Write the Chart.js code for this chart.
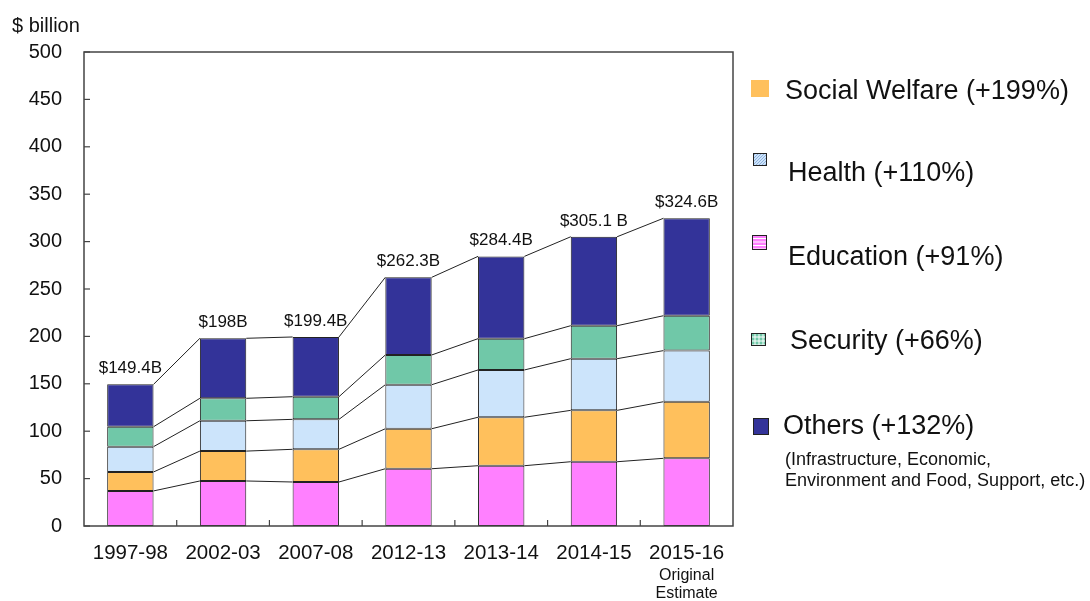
<!DOCTYPE html>
<html lang="en">
<head>
    <meta charset="utf-8">
    <title>Budget by category</title>
    <script src="https://cdn.jsdelivr.net/npm/chart.js@4.4.0/dist/chart.umd.min.js"></script>
    <style>
        body { margin: 0; background: #fff; }
    </style>
</head>
<body>
<canvas id="myChart" width="1090" height="601"></canvas>

<script>
    // values, $ billion
    const years = ["1997-98", "2002-03", "2007-08", "2012-13", "2013-14", "2014-15", "2015-16"];
    const education = [37, 47.5, 46.4, 60.4, 63.6, 67.8, 71.4];
    const welfare = [20, 31.5, 34.5, 42.2, 51.1, 54.2, 59.7];
    const health = [26.7, 32, 31.6, 46.4, 49.9, 54.5, 53.9];
    const security = [21, 23.7, 23.9, 31.4, 33, 34.8, 36.8];
    const others = [44.7, 63.3, 63, 81.9, 86.8, 93.8, 102.8];
    const totalLabels = ["$149.4B", "$198B", "$199.4B", "$262.3B", "$284.4B", "$305.1 B", "$324.6B"];
    const yTicks = [0, 50, 100, 150, 200, 250, 300, 350, 400, 450, 500];
    const lastNote = ["Original", "Estimate"];

    const legendItems = [
        {label: "Social Welfare (+199%)", key: "welfare"},
        {label: "Health (+110%)", key: "health"},
        {label: "Education (+91%)", key: "education"},
        {label: "Security (+66%)", key: "security"},
        {label: "Others (+132%)", key: "others"}
    ];
    const othersNote = ["(Infrastructure, Economic,", "Environment and Food, Support, etc.)"];

    const colors = {
        education: "#ff80ff",
        welfare: "#ffc05c",
        health: "#cce4fb",
        security: "#70c8a8",
        others: "#333399"
    };

    const FONT = "'Liberation Sans', Arial, sans-serif";

    let drawMarker = (ctx, key, x, y, w, h) => {
        ctx.save();
        ctx.fillStyle = colors[key];
        ctx.fillRect(x, y, w, h);
        ctx.beginPath();
        ctx.rect(x, y, w, h);
        ctx.clip();
        ctx.lineWidth = 1;
        if (key === "health") {
            ctx.strokeStyle = "#8fb0dc";
            for (let k = -h; k < w; k += 3) {
                ctx.beginPath();
                ctx.moveTo(x + k, y + h);
                ctx.lineTo(x + k + h, y);
                ctx.stroke();
            }
        } else if (key === "education") {
            ctx.strokeStyle = "#ffffff";
            for (let k = 3.5; k < h; k += 3.5) {
                ctx.beginPath();
                ctx.moveTo(x, y + k);
                ctx.lineTo(x + w, y + k);
                ctx.stroke();
            }
        } else if (key === "security") {
            ctx.strokeStyle = "#ffffff";
            for (let k = 4; k < w; k += 4) {
                ctx.beginPath();
                ctx.moveTo(x + k, y);
                ctx.lineTo(x + k, y + h);
                ctx.moveTo(x, y + k);
                ctx.lineTo(x + w, y + k);
                ctx.stroke();
            }
        }
        ctx.restore();
        if (key !== "welfare") {
            ctx.strokeStyle = "#222";
            ctx.lineWidth = 1;
            ctx.strokeRect(x + 0.5, y + 0.5, w - 1, h - 1);
        }
    };

    const extrasPlugin = {
        id: "extras",
        afterDatasetsDraw(chart) {
            const {ctx, chartArea: a, scales: {x, y}} = chart;
            ctx.save();

            // lines joining the segment tops
            ctx.strokeStyle = "#222";
            ctx.lineWidth = 1;
            chart.data.datasets.forEach((ds, di) => {
                const meta = chart.getDatasetMeta(di);
                for (let i = 0; i < meta.data.length - 1; i++) {
                    const b1 = meta.data[i], b2 = meta.data[i + 1];
                    ctx.beginPath();
                    ctx.moveTo(b1.x + b1.width / 2, b1.y);
                    ctx.lineTo(b2.x - b2.width / 2, b2.y);
                    ctx.stroke();
                }
            });

            // plot frame and inward ticks
            ctx.strokeStyle = "#444";
            ctx.lineWidth = 1.5;
            ctx.strokeRect(a.left, a.top, a.right - a.left, a.bottom - a.top);
            ctx.lineWidth = 1.2;
            yTicks.forEach(v => {
                const py = y.getPixelForValue(v);
                ctx.beginPath();
                ctx.moveTo(a.left, py);
                ctx.lineTo(a.left + 6, py);
                ctx.stroke();
            });
            for (let i = 1; i < years.length; i++) {
                const px = (x.getPixelForValue(i - 1) + x.getPixelForValue(i)) / 2;
                ctx.beginPath();
                ctx.moveTo(px, a.bottom);
                ctx.lineTo(px, a.bottom - 6);
                ctx.stroke();
            }

            // totals above bars
            const top = chart.getDatasetMeta(chart.data.datasets.length - 1);
            ctx.fillStyle = "#111";
            ctx.font = "17px " + FONT;
            ctx.textAlign = "center";
            ctx.textBaseline = "alphabetic";
            top.data.forEach((b, i) => {
                ctx.fillText(totalLabels[i], b.x, b.y - 11);
            });

            // unit label
            ctx.textAlign = "left";
            ctx.font = "20px " + FONT;
            ctx.textBaseline = "middle";
            ctx.fillText("$ billion", 12, 26);

            // note under the last category
            const lx = x.getPixelForValue(years.length - 1);
            ctx.textAlign = "center";
            ctx.font = "16px " + FONT;
            ctx.fillText(lastNote[0], lx, 576);
            ctx.fillText(lastNote[1], lx, 594);

            // legend
            const rows = [
                {mx: 751, my: 80, mw: 18, mh: 17, tx: 785, ty: 92},
                {mx: 753, my: 153, mw: 14, mh: 13, tx: 788, ty: 174},
                {mx: 752, my: 235, mw: 15, mh: 15, tx: 788, ty: 258},
                {mx: 751, my: 333, mw: 15, mh: 13, tx: 790, ty: 342},
                {mx: 753, my: 418, mw: 16, mh: 17, tx: 783, ty: 427}
            ];
            legendItems.forEach((item, i) => {
                const r = rows[i];
                drawMarker(ctx, item.key, r.mx, r.my, r.mw, r.mh);
                ctx.fillStyle = "#111";
                ctx.textAlign = "left";
                ctx.textBaseline = "middle";
                ctx.font = "27px " + FONT;
                ctx.fillText(item.label, r.tx, r.ty);
            });
            ctx.font = "18px " + FONT;
            ctx.fillText(othersNote[0], 785, 460);
            ctx.fillText(othersNote[1], 785, 481);

            ctx.restore();
        }
    };

    let makeSet = (label, data, key) => ({
        label: label,
        data: data,
        backgroundColor: colors[key],
        borderColor: "#222",
        borderWidth: 1,
        borderSkipped: false,
        categoryPercentage: 1,
        barPercentage: 0.5
    });

    const ctx1 = document.getElementById("myChart").getContext("2d");
    const myChart = new Chart(ctx1, {
        type: "bar",
        data: {
            labels: years,
            datasets: [
                makeSet("Education", education, "education"),
                makeSet("Social Welfare", welfare, "welfare"),
                makeSet("Health", health, "health"),
                makeSet("Security", security, "security"),
                makeSet("Others", others, "others")
            ]
        },
        options: {
            responsive: false,
            animation: false,
            layout: {padding: {top: 52, right: 357, left: 0, bottom: 0}},
            plugins: {
                legend: {display: false},
                tooltip: {enabled: false}
            },
            scales: {
                x: {
                    stacked: true,
                    grid: {display: false, drawTicks: false},
                    border: {display: false},
                    ticks: {
                        color: "#111",
                        padding: 15,
                        font: {family: FONT, size: 20.5}
                    },
                    afterFit: s => { s.height = 75; }
                },
                y: {
                    stacked: true,
                    min: 0,
                    max: 500,
                    grid: {display: false, drawTicks: false},
                    border: {display: false},
                    ticks: {
                        stepSize: 50,
                        color: "#111",
                        padding: 22,
                        font: {family: FONT, size: 20}
                    },
                    afterFit: s => { s.width = 84; }
                }
            }
        },
        plugins: [extrasPlugin]
    });
</script>
</body>
</html>
